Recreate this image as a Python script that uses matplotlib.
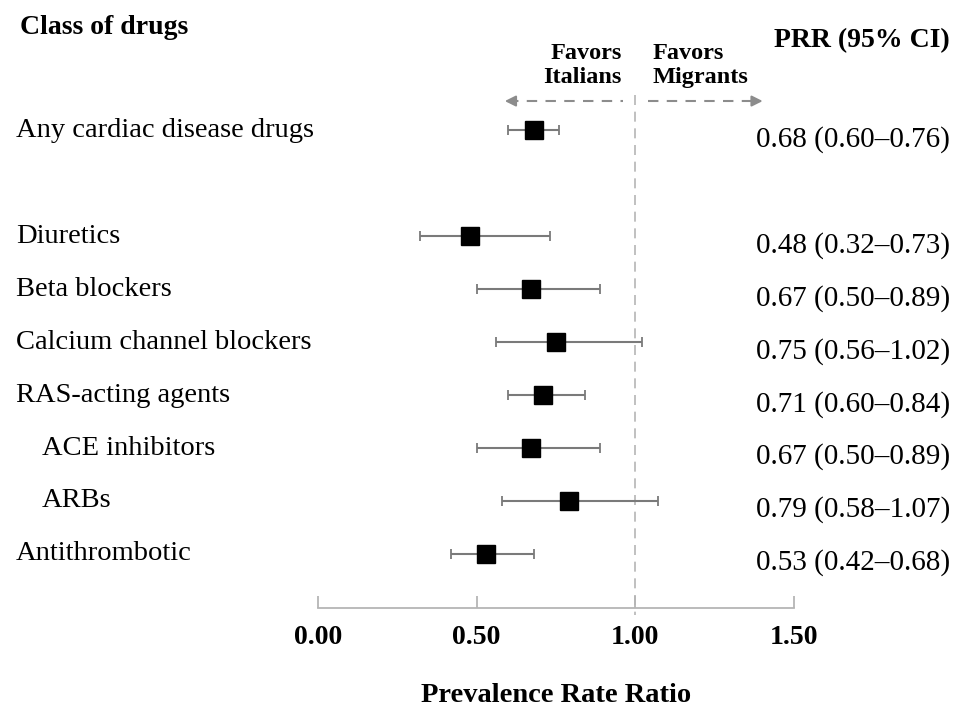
import matplotlib.pyplot as plt
import matplotlib.transforms as mtransforms

# Forest plot data
drug_classes = ['Any cardiac disease drugs', 'Diuretics', 'Beta blockers',
                'Calcium channel blockers', 'RAS-acting agents',
                'ACE inhibitors', 'ARBs', 'Antithrombotic']
row_pos = [0, 2, 3, 4, 5, 6, 7, 8]
indented = [False, False, False, False, False, True, True, False]
prr = [0.68, 0.48, 0.67, 0.75, 0.71, 0.67, 0.79, 0.53]
ci_low = [0.60, 0.32, 0.50, 0.56, 0.60, 0.50, 0.58, 0.42]
ci_high = [0.76, 0.73, 0.89, 1.02, 0.84, 0.89, 1.07, 0.68]
xticks = [0.0, 0.5, 1.0, 1.5]

plt.rcParams['font.family'] = ['Liberation Serif', 'DejaVu Serif']

fig = plt.figure(figsize=(9.6, 7.08), dpi=100)
ax = fig.add_axes([318 / 960, 100 / 708, 476 / 960, 588 / 708])

gray = '#8c8c8c'

# error bars and squares
err = [[p - l for p, l in zip(prr, ci_low)], [h - p for p, h in zip(prr, ci_high)]]
ax.errorbar(prr, row_pos, xerr=err, fmt='none', ecolor='#7a7a7a', elinewidth=1.5,
            capsize=3.5, capthick=1.3, zorder=2)
ax.plot(prr, row_pos, 's', color='black', markersize=12.5, zorder=3)

# reference line at 1
ax.plot([1, 1], [-0.66, 9.15], color='#b5b5b5', linestyle=(0, (6, 4)), lw=1.2,
        clip_on=False, zorder=1)

ax.set_xlim(0, 1.5)
ax.set_ylim(9.02, -2.08)

for s in ['top', 'right', 'left']:
    ax.spines[s].set_visible(False)
ax.spines['bottom'].set_color('#b5b5b5')
ax.spines['bottom'].set_linewidth(1.3)
ax.set_yticks([])
ax.set_xticks(xticks)
ax.set_xticklabels(['%.2f' % t for t in xticks], fontsize=20, fontweight='bold')
ax.tick_params(axis='x', direction='in', length=9, color='#b5b5b5', width=1.3, pad=12)
ax.set_xlabel('Prevalence Rate Ratio', fontsize=20.5, fontweight='bold', labelpad=24)

# left labels and right PRR text
trans = mtransforms.blended_transform_factory(fig.transFigure, ax.transData)
for name, y, ind, p, lo, hi in zip(drug_classes, row_pos, indented, prr, ci_low, ci_high):
    x = 42 / 960 if ind else 16 / 960
    ax.text(x, y, name, transform=trans, fontsize=20.5, ha='left', va='center')
    ax.text(950 / 960, y + 0.17, '%.2f (%.2f\u2013%.2f)' % (p, lo, hi), transform=trans,
            fontsize=21, ha='right', va='center')

ax.text(20 / 960, -1.94, 'Class of drugs', transform=trans, fontsize=20,
        fontweight='bold', ha='left', va='center')
ax.text(950 / 960, -1.70, 'PRR (95% CI)', transform=trans, fontsize=20,
        fontweight='bold', ha='right', va='center')

# favors annotations
ax.text(0.958, -1.22, 'Favors\nItalians', fontsize=17.5, fontweight='bold',
        ha='right', va='center', linespacing=1.15)
ax.text(1.053, -1.22, 'Favors\nMigrants', fontsize=17.5, fontweight='bold',
        ha='left', va='center', linespacing=1.15)
arrow_y = -0.55
ax.plot([0.60, 0.96], [arrow_y, arrow_y], color=gray, linestyle=(0, (5, 4)), lw=1.5,
        clip_on=False)
ax.plot([1.04, 1.39], [arrow_y, arrow_y], color=gray, linestyle=(0, (5, 4)), lw=1.5,
        clip_on=False)
ax.annotate('', xy=(0.58, arrow_y), xytext=(0.62, arrow_y),
            arrowprops=dict(arrowstyle='-|>', color=gray, lw=1.5, mutation_scale=16),
            annotation_clip=False)
ax.annotate('', xy=(1.41, arrow_y), xytext=(1.37, arrow_y),
            arrowprops=dict(arrowstyle='-|>', color=gray, lw=1.5, mutation_scale=16),
            annotation_clip=False)

fig.savefig('out.png', dpi=100)
